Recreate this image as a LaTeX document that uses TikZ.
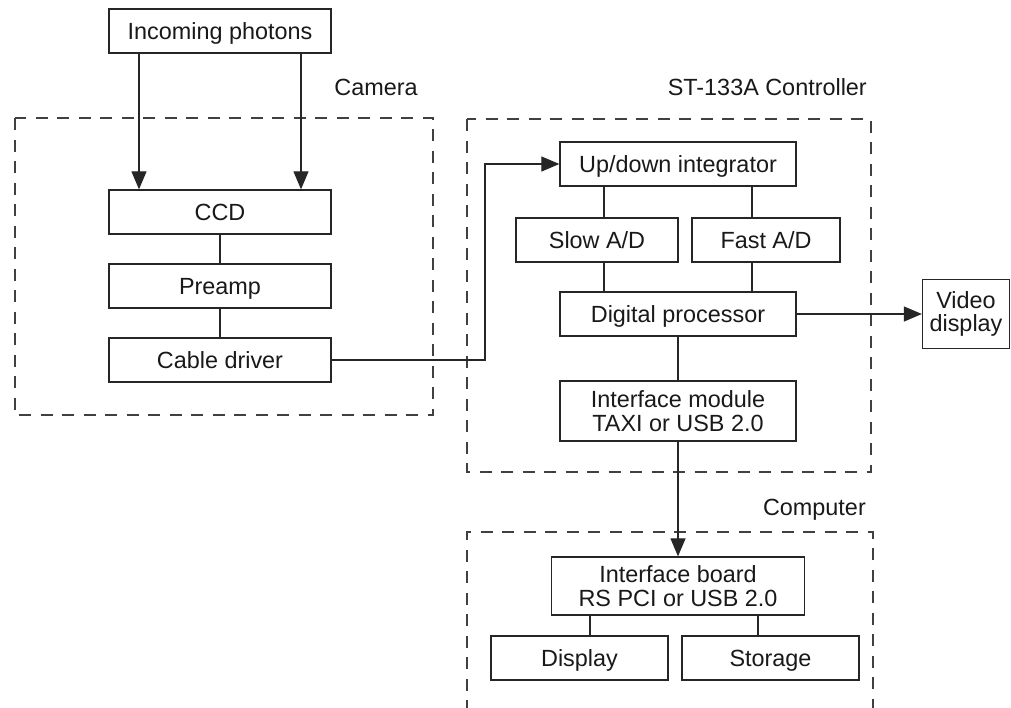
\documentclass[tikz,border=0pt]{standalone}
\usepackage{fontspec}
\setmainfont{Liberation Sans}
\usetikzlibrary{arrows.meta}
\tikzset{
  blk/.style={draw=black!85, line width=1.3pt, rectangle, inner sep=0pt,
    minimum height=44pt, align=center, text=black!90,
    font=\fontsize{23.4}{23.5}\selectfont},
  one/.style={text height=16.8pt, text depth=0pt},
  lbl/.style={inner sep=0pt, text=black!90, font=\fontsize{23.4}{23.5}\selectfont},
  conn/.style={draw=black!85, line width=1.2pt},
  arr/.style={conn, -{Triangle[length=18pt,width=15pt]}},
  grp/.style={draw=black!75, line width=1.1pt, dash pattern=on 12pt off 9.5pt}
}
\begin{document}
\begin{tikzpicture}[x=1pt,y=-1pt]
\useasboundingbox (0,0) rectangle (1011,707);
\fill[white] (0,0) rectangle (1011,707);

% group frames
\draw[grp] (15,118) rectangle (433,415);
\draw[grp] (467,119) rectangle (871,472);
\draw[grp] (467,712) -- (467,532) -- (873,532) -- (873,712);

% group labels
\node[lbl, one] (lcam) at (376,87) {Camera};
\node[lbl, one, anchor=east] (lctl) at (867,87) {ST-133A Controller};
\node[lbl, one, anchor=east] (lcmp) at (866,507) {Computer};

% camera
\node[blk, one, minimum width=222pt] (photons) at (220,31) {Incoming photons};
\node[blk, one, minimum width=222pt] (ccd) at (220,212) {CCD};
\node[blk, one, minimum width=222pt] (preamp) at (220,286) {Preamp};
\node[blk, one, minimum width=222pt] (cable) at (220,360) {Cable driver};

% controller
\node[blk, one, minimum width=236pt] (updown) at (678,164) {Up/down integrator};
\node[blk, one, minimum width=162pt] (slow) at (597,240) {Slow A/D};
\node[blk, one, minimum width=148pt] (fast) at (766,240) {Fast A/D};
\node[blk, one, minimum width=236pt] (digital) at (678,314) {Digital processor};
\node[blk, minimum width=236pt, minimum height=60pt] (ifmod) at (678,411) {Interface module\\TAXI or USB 2.0};
\node[blk, minimum width=87pt, minimum height=69pt] (vid) at (966,314) {Video\\display};

% computer
\node[blk, minimum width=253pt, minimum height=58pt] (ifboard) at (678,586) {Interface board\\RS PCI or USB 2.0};
\node[blk, one, minimum width=177pt] (display) at (579.5,658) {Display};
\node[blk, one, minimum width=177pt] (storage) at (770.5,658) {Storage};

% helper x positions
\coordinate (xa) at (139,0);
\coordinate (xb) at (301,0);
\coordinate (xc) at (604,0);
\coordinate (xd) at (752,0);
\coordinate (xe) at (590,0);
\coordinate (xf) at (758,0);
\coordinate (bend) at (485,250);

% connectors
\draw[arr] (photons.south -| xa) -- (ccd.north -| xa);
\draw[arr] (photons.south -| xb) -- (ccd.north -| xb);
\draw[conn] (ccd.south) -- (preamp.north);
\draw[conn] (preamp.south) -- (cable.north);
\draw[arr] (cable.east) -- (cable.east -| bend) -- (bend |- updown.west) -- (updown.west);
\draw[conn] (updown.south -| xc) -- (slow.north -| xc);
\draw[conn] (updown.south -| xd) -- (fast.north -| xd);
\draw[conn] (slow.south -| xc) -- (digital.north -| xc);
\draw[conn] (fast.south -| xd) -- (digital.north -| xd);
\draw[arr] (digital.east) -- (vid.west);
\draw[conn] (digital.south) -- (ifmod.north);
\draw[arr] (ifmod.south) -- (ifboard.north);
\draw[conn] (ifboard.south -| xe) -- (display.north -| xe);
\draw[conn] (ifboard.south -| xf) -- (storage.north -| xf);
\end{tikzpicture}
\end{document}
